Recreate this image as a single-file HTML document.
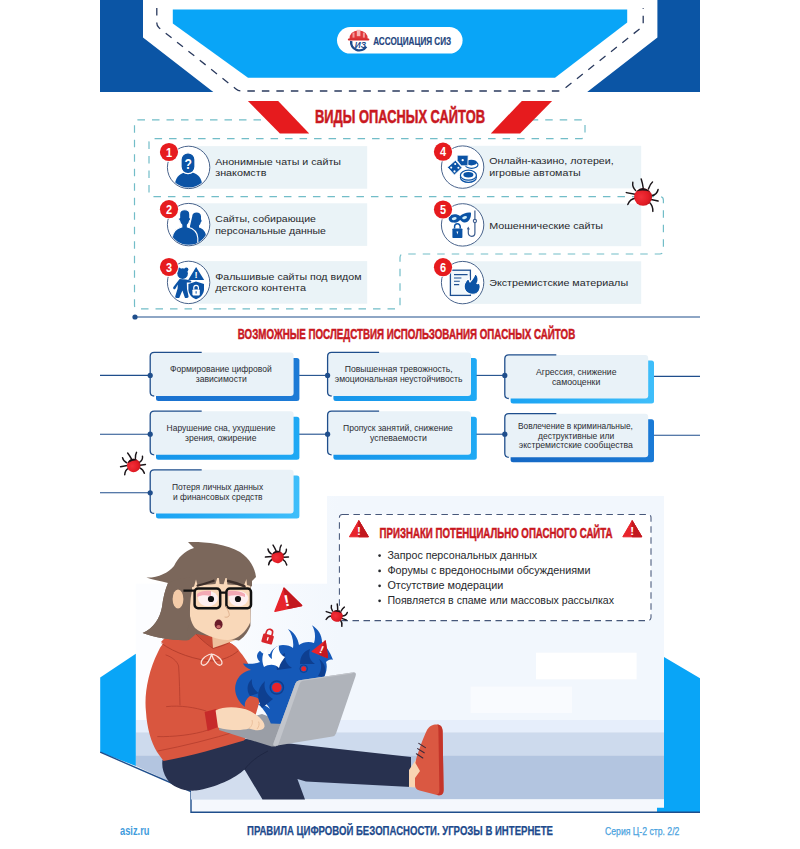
<!DOCTYPE html>
<html lang="ru"><head><meta charset="utf-8"><title>Правила цифровой безопасности. Угрозы в интернете</title>
<style>
html,body{margin:0;padding:0;background:#fff;}
body{width:800px;height:849px;overflow:hidden;font-family:"Liberation Sans",sans-serif;}
svg{display:block}
svg text{font-family:"Liberation Sans",sans-serif;}
</style></head><body>
<svg width="800" height="849" viewBox="0 0 800 849">
<rect width="800" height="849" fill="#fff"/>
<polygon points="100,0 143,0 143,37.6 213.3,92 100,92" fill="#0b55a5"/>
<polygon points="700,0 657.4,0 657.4,37.6 587.2,92 700,92" fill="#0b55a5"/>
<polygon points="172.8,9.6 627.2,9.6 627.2,22.4 555,77.7 248,77.7 172.8,23.6" fill="#09a5f7"/>
<path d="M156.8,8 V23 Q156.8,26 159,27.8 L236,89 Q238.5,91 241.5,91 H558.5 Q561.5,91 564,89 L641,27.8 Q643.2,26 643.2,23 V8" fill="none" stroke="#2a3a5e" stroke-width="1.3" stroke-dasharray="7.5 7"/>
<rect x="337" y="27" width="125.6" height="26.6" rx="13.3" fill="#fff"/>
<g id="logo">
<path d="M351.2,41 A8.2,8.2 0 0 0 366.2,46.6" fill="none" stroke="#1d4a8c" stroke-width="2.5"/>
<path d="M349.4,39.4 Q349.2,31.2 358.6,30.2 Q368,31.2 367.8,39.4 Z" fill="#e0363a"/>
<rect x="347.8" y="38.4" width="21.6" height="2.2" rx="1.1" fill="#d62c31"/>
<rect x="356.8" y="29.8" width="3.6" height="6.4" fill="#f7b3b3"/>
<rect x="352.5" y="32.6" width="2" height="5" fill="#f29a9a"/><rect x="362.9" y="32.6" width="2" height="5" fill="#f29a9a"/>
<text x="360.4" y="47.6" font-size="8.2" font-weight="700" fill="#1d4a8c" text-anchor="middle" font-style="italic">ИЗ</text>
</g>
<text x="373.2" y="44.9" font-size="10.8" font-weight="700" fill="#24457e" textLength="78" lengthAdjust="spacingAndGlyphs" stroke="#24457e" stroke-width=".2">АССОЦИАЦИЯ СИЗ</text>
<path d="M290,119.8 H138.1 Q134.5,119.8 134.5,123.39999999999999 V305.2 Q134.5,308.8 138.1,308.8 H396.4 Q400,308.8 400,305.2 V257.6 Q400,254 403.6,254 H659.8 Q663.4,254 663.4,250.4 V200.2 Q663.4,196.6 659.8,196.6 H152.6 Q149,196.6 149,193.0 V142.2 Q149,138.6 152.6,138.6 H581.4 Q585,138.6 585,135.0 V123.39999999999999 Q585,119.8 581.4,119.8 H510" fill="none" stroke="#72bdc8" stroke-width="1.2" stroke-dasharray="7.5 7"/>
<rect x="300" y="105" width="200" height="24" fill="#fff"/>
<polygon points="247.9,100.9 278.2,100.9 309.2,133.6 279.9,133.6" fill="#e61b1e"/>
<polygon points="552.1,100.9 521.8,100.9 490.8,133.6 520.1,133.6" fill="#e61b1e"/>
<text x="315" y="123.2" font-size="18.2" font-weight="700" fill="#c9181f" textLength="170" lengthAdjust="spacingAndGlyphs" stroke="#c9181f" stroke-width=".55">ВИДЫ ОПАСНЫХ САЙТОВ</text>
<rect x="188.6" y="146.1" width="178.6" height="42.6" fill="#eaf3f7"/>
<circle cx="188.6" cy="167.4" r="21.2" fill="#fff" stroke="#35527f" stroke-width=".9"/>
<text x="215.2" y="164.6" font-size="9.9" font-weight="400" fill="#26282c" textLength="125.75" lengthAdjust="spacingAndGlyphs" >Анонимные чаты и сайты</text>
<text x="215.2" y="176.4" font-size="9.9" font-weight="400" fill="#26282c" textLength="51.25" lengthAdjust="spacingAndGlyphs" >знакомств</text>
<rect x="188.6" y="203.29999999999998" width="178.6" height="42.6" fill="#eaf3f7"/>
<circle cx="188.6" cy="224.6" r="21.2" fill="#fff" stroke="#35527f" stroke-width=".9"/>
<text x="215.2" y="221.8" font-size="9.9" font-weight="400" fill="#26282c" textLength="100.75" lengthAdjust="spacingAndGlyphs" >Сайты, собирающие</text>
<text x="215.2" y="233.6" font-size="9.9" font-weight="400" fill="#26282c" textLength="110.75" lengthAdjust="spacingAndGlyphs" >персональные данные</text>
<rect x="188.6" y="261.09999999999997" width="178.6" height="42.6" fill="#eaf3f7"/>
<circle cx="188.6" cy="282.4" r="21.2" fill="#fff" stroke="#35527f" stroke-width=".9"/>
<text x="215.2" y="279.6" font-size="9.9" font-weight="400" fill="#26282c" textLength="146.25" lengthAdjust="spacingAndGlyphs" >Фальшивые сайты под видом</text>
<text x="215.2" y="291.4" font-size="9.9" font-weight="400" fill="#26282c" textLength="90.75" lengthAdjust="spacingAndGlyphs" >детского контента</text>
<rect x="462.6" y="145.79999999999998" width="178.6" height="42.6" fill="#eaf3f7"/>
<circle cx="462.6" cy="167.1" r="21.2" fill="#fff" stroke="#35527f" stroke-width=".9"/>
<text x="489.2" y="164.3" font-size="9.9" font-weight="400" fill="#26282c" textLength="124.5" lengthAdjust="spacingAndGlyphs" >Онлайн-казино, лотереи,</text>
<text x="489.2" y="176.1" font-size="9.9" font-weight="400" fill="#26282c" textLength="91.5" lengthAdjust="spacingAndGlyphs" >игровые автоматы</text>
<rect x="462.6" y="203.6" width="178.6" height="42.6" fill="#eaf3f7"/>
<circle cx="462.6" cy="224.9" r="21.2" fill="#fff" stroke="#35527f" stroke-width=".9"/>
<text x="489.2" y="228.5" font-size="9.9" font-weight="400" fill="#26282c" textLength="113.9" lengthAdjust="spacingAndGlyphs" >Мошеннические сайты</text>
<rect x="462.6" y="261.3" width="178.6" height="42.6" fill="#eaf3f7"/>
<circle cx="462.6" cy="282.6" r="21.2" fill="#fff" stroke="#35527f" stroke-width=".9"/>
<text x="489.2" y="286.2" font-size="9.9" font-weight="400" fill="#26282c" textLength="138.9" lengthAdjust="spacingAndGlyphs" >Экстремистские материалы</text>
<g id="icons" fill="#0b53a5">
<defs>
<clipPath id="c1"><circle cx="188.6" cy="167.4" r="20.2"/></clipPath>
<clipPath id="c2"><circle cx="188.6" cy="224.6" r="20.2"/></clipPath>
</defs>
<!-- icon 1: anonymous -->
<g clip-path="url(#c1)">
<path d="M174.6,190 C174.2,178.5 178.5,174.2 184.5,172.6 L192.5,172.6 C198.5,174.2 202.8,178.5 202.4,190 Z"/>
<rect x="181" y="152.8" width="14" height="20.8" rx="6.8" stroke="#fff" stroke-width="1.3"/>
</g>
<text x="188.2" y="168.8" font-size="14.4" font-weight="700" fill="#fff" text-anchor="middle" transform="translate(188.2 0) scale(.84 1) translate(-188.2 0)">?</text>
<!-- icon 2: two people -->
<g clip-path="url(#c2)">
<path d="M192.2,216.5 C192.2,213.8 194,212.6 196.6,212.6 C199.2,212.6 201,213.8 201,216.5 L201,219.5 C201.8,219.6 201.8,222 200.8,222.2 C200.4,224 199.6,225 199,225.4 L199,227.4 C203,228.6 206,231.5 206.2,237 L206.2,244 L190,244 L190,226 Z"/>
<path d="M179.6,214.5 C179.6,211.2 181.6,209.8 184.6,209.8 C187.6,209.8 189.8,211.2 189.8,214.5 L189.8,217.6 C190.8,217.8 190.8,220.6 189.6,220.9 C189.2,223 188.2,224.4 187.4,225 L187.4,227 C193.4,228.4 197.4,231.4 197.8,238 L197.8,247 L172.2,247 L172.2,238 C172.6,231.4 176.2,228.4 181.8,227 L181.8,225 C181,224.4 180,223 179.6,220.9 C178.4,220.6 178.4,217.8 179.6,217.6 Z" stroke="#fff" stroke-width="1.1"/>
</g>
<!-- icon 3: child + warning + shield -->
<g>
<circle cx="178.9" cy="269.6" r="2.1"/><circle cx="186.3" cy="269.6" r="2.1"/>
<circle cx="182.6" cy="273.6" r="5.3"/>
<path d="M179.6,279 L186,279.4 L190.6,280.6 Q192,281.4 191,282.6 L186.8,282.6 L187,289 L188.6,296.6 Q188.6,298 187,298 L185,298 L182.4,290.4 L179.2,298 L176.4,298 Q175,298 175.2,296.6 L177.6,288.6 L177.8,284.6 L175.4,288.8 Q174.4,289.8 173.4,288.8 Q172.8,288 173.4,287 Z"/>
<path d="M196.1,267 L204.2,279.9 L188.2,279.9 Z"/>
<text x="196.15" y="278.4" font-size="9.4" font-weight="700" fill="#fff" text-anchor="middle">!</text>
<path d="M196,281.4 L204,284 L204,289.2 C204,294 200.4,297.6 196,299.2 C191.6,297.6 188.4,294 188.4,289.2 L188.4,284 Z"/>
<rect x="192.4" y="289.4" width="7.4" height="6" rx=".8" fill="#fff"/>
<path d="M193.8,289.6 V287.6 A2.3,2.3 0 0 1 198.4,287.6 V289.6" fill="none" stroke="#fff" stroke-width="1.2"/>
<rect x="195.6" y="291.2" width="1" height="2.4" fill="#0b53a5"/>
</g>
<!-- icon 4: dice + chips -->
<g>
<ellipse cx="471.6" cy="164.8" rx="6.4" ry="3.6" fill="#fff" stroke="#0b53a5" stroke-width="1.1"/>
<ellipse cx="471.4" cy="162.6" rx="5.6" ry="2.8"/>
<path d="M457.2,155.2 L468.2,155.2 L467.8,165.8 L461.2,165.8 L457.2,160.6 Z" stroke="#fff" stroke-width=".8"/>
<circle cx="462.7" cy="160.2" r="1.15" fill="#fff"/>
<path d="M447.4,167.3 L455.4,160.3 L462.1,167.7 L454.4,175 Z" stroke="#fff" stroke-width=".8"/>
<circle cx="451.2" cy="167.6" r="1.05" fill="#fff"/><circle cx="455.2" cy="164" r="1.05" fill="#fff"/><circle cx="458.4" cy="167.8" r="1.05" fill="#fff"/><circle cx="454.5" cy="171.4" r="1.05" fill="#fff"/>
<ellipse cx="468.4" cy="177.2" rx="8" ry="5.2" fill="#fff" stroke="#0b53a5" stroke-width="1.2"/>
<ellipse cx="468.4" cy="175.2" rx="8" ry="5" fill="#fff" stroke="#0b53a5" stroke-width="1.2"/>
<ellipse cx="468.4" cy="174.8" rx="5" ry="2.7"/>
</g>
<!-- icon 5: mask, lock, hook -->
<g>
<path d="M448.8,217.4 C451,213.4 457,213.6 460,216 C463,213.4 468,212 471,212.8 C471.4,218 468.6,223 464.4,222.6 C462.4,222.4 461.2,220.8 460.2,220 C459,221.2 457,223 453.6,222.6 C450,222.2 448.2,220.4 448.8,217.4 Z"/>
<ellipse cx="454.2" cy="218.6" rx="2.5" ry="1.5" fill="#cfeffa" transform="rotate(-12 454.2 218.6)"/>
<ellipse cx="464.6" cy="217.6" rx="2.5" ry="1.5" fill="#cfeffa" transform="rotate(-18 464.6 217.6)"/>
<rect x="452.4" y="228.4" width="10" height="9.6" rx=".8"/>
<path d="M454.6,228.6 V226.6 A2.8,2.8 0 0 1 460.2,226.6 V228.6" fill="none" stroke="#0b53a5" stroke-width="1.5"/>
<path d="M456.5,231.6 h1.8 l-.9,3 z" fill="#fff"/>
<path d="M474.9,210.4 V219.4 M474.9,222.6 V233 A3.3,3.3 0 0 1 468.3,233 V228" fill="none" stroke="#3b5c8f" stroke-width="1.2"/>
<circle cx="474.9" cy="221" r="1.6" fill="#fff" stroke="#3b5c8f" stroke-width="1.1"/>
<path d="M466.9,229.2 L468.3,226.4 L469.9,229.4 Z" fill="#3b5c8f"/>
</g>
<!-- icon 6: document + flame -->
<g>
<rect x="450.4" y="270.2" width="20" height="25.2" fill="#f1f8fc" stroke="#1d4f91" stroke-width="1.3"/>
<path d="M454,274.6 H467.6 M454,278 H461.4 M454,281.3 H459.8 M454,284.6 H459.2" stroke="#1d4f91" stroke-width="1.1"/>
<path d="M475,273.2 C478.4,276.4 478.8,280.4 476.9,283.6 C477.8,284 478.6,283.6 479.2,282.6 C480.6,286 480.4,290.4 477.3,292.9 C475.6,294.2 473.6,294.4 472,294.2 C468.6,294 465.6,292 464.4,288.6 C463.4,285.2 465.6,281 469,277.6 C468.8,279.6 469.2,281.2 470,282 C471.6,280.4 474.4,277.4 475,273.2 Z" stroke="#fff" stroke-width="1.1"/>
</g>
</g>

<circle cx="169.0" cy="152.0" r="9.9" fill="#fff"/><circle cx="169.0" cy="152.0" r="9.1" fill="#e61b1e"/>
<text x="169.0" y="156.8" font-size="13.4" font-weight="700" fill="#fff" text-anchor="middle" transform="translate(169.0 0) scale(.82 1) translate(-169.0 0)">1</text>
<circle cx="169.0" cy="209.2" r="9.9" fill="#fff"/><circle cx="169.0" cy="209.2" r="9.1" fill="#e61b1e"/>
<text x="169.0" y="214.0" font-size="13.4" font-weight="700" fill="#fff" text-anchor="middle" transform="translate(169.0 0) scale(.82 1) translate(-169.0 0)">2</text>
<circle cx="169.0" cy="267.0" r="9.9" fill="#fff"/><circle cx="169.0" cy="267.0" r="9.1" fill="#e61b1e"/>
<text x="169.0" y="271.8" font-size="13.4" font-weight="700" fill="#fff" text-anchor="middle" transform="translate(169.0 0) scale(.82 1) translate(-169.0 0)">3</text>
<circle cx="443.0" cy="151.7" r="9.9" fill="#fff"/><circle cx="443.0" cy="151.7" r="9.1" fill="#e61b1e"/>
<text x="443.0" y="156.5" font-size="13.4" font-weight="700" fill="#fff" text-anchor="middle" transform="translate(443.0 0) scale(.82 1) translate(-443.0 0)">4</text>
<circle cx="443.0" cy="209.5" r="9.9" fill="#fff"/><circle cx="443.0" cy="209.5" r="9.1" fill="#e61b1e"/>
<text x="443.0" y="214.3" font-size="13.4" font-weight="700" fill="#fff" text-anchor="middle" transform="translate(443.0 0) scale(.82 1) translate(-443.0 0)">5</text>
<circle cx="443.0" cy="267.2" r="9.9" fill="#fff"/><circle cx="443.0" cy="267.2" r="9.1" fill="#e61b1e"/>
<text x="443.0" y="272.0" font-size="13.4" font-weight="700" fill="#fff" text-anchor="middle" transform="translate(443.0 0) scale(.82 1) translate(-443.0 0)">6</text>
<path d="M135,317 H700" stroke="#1f4e8c" stroke-width="1.2"/><circle cx="135" cy="317" r="2.6" fill="#1f4e8c"/>
<text x="237.8" y="338.8" font-size="14.2" font-weight="700" fill="#c9181f" textLength="337.4" lengthAdjust="spacingAndGlyphs" stroke="#c9181f" stroke-width=".5">ВОЗМОЖНЫЕ ПОСЛЕДСТВИЯ ИСПОЛЬЗОВАНИЯ ОПАСНЫХ САЙТОВ</text>
<defs>
<linearGradient id="g1" x1="0" x2="1"><stop offset="0" stop-color="#1a72d0"/><stop offset="1" stop-color="#1d7bd6"/></linearGradient>
<linearGradient id="g2" x1="0" x2="1"><stop offset="0" stop-color="#1695ea"/><stop offset="1" stop-color="#1fa9f4"/></linearGradient>
<linearGradient id="g3" x1="0" x2="1"><stop offset="0" stop-color="#1aa3f3"/><stop offset="1" stop-color="#3fbefa"/></linearGradient>
<linearGradient id="g4" x1="0" x2="1"><stop offset="0" stop-color="#1568c4"/><stop offset="1" stop-color="#1a7ad6"/></linearGradient>
</defs>
<path d="M100,375.4 H150.2" stroke="#1f4e8c" stroke-width="1.1"/>
<rect x="156.0" y="358.0" width="143.4" height="43.0" rx="2.5" fill="url(#g1)"/>
<rect x="150.2" y="352.4" width="143.4" height="43.6" rx="3" fill="#e9f2f8"/>
<path d="M201.7,352.4 H154.2 Q150.2,352.4 150.2,356.4 V392.0 Q150.2,396.0 154.2,396.0" fill="none" stroke="#1f4e8c" stroke-width="1.3"/>
<circle cx="150.2" cy="375.4" r="2.6" fill="#1f4e8c"/>
<text x="170" y="372.3" font-size="8.6" font-weight="400" fill="#2b2d33" textLength="101.7" lengthAdjust="spacingAndGlyphs" >Формирование цифровой</text>
<text x="195.7" y="382.1" font-size="8.6" font-weight="400" fill="#2b2d33" textLength="51" lengthAdjust="spacingAndGlyphs" >зависимости</text>
<path d="M299.20000000000005,375.4 H327.6" stroke="#1f4e8c" stroke-width="1.1"/>
<rect x="333.4" y="358.0" width="143.4" height="43.0" rx="2.5" fill="url(#g2)"/>
<rect x="327.6" y="352.4" width="143.4" height="43.6" rx="3" fill="#e9f2f8"/>
<path d="M379.1,352.4 H331.6 Q327.6,352.4 327.6,356.4 V392.0 Q327.6,396.0 331.6,396.0" fill="none" stroke="#1f4e8c" stroke-width="1.3"/>
<circle cx="327.6" cy="375.4" r="2.6" fill="#1f4e8c"/>
<text x="344.7" y="372.3" font-size="8.6" font-weight="400" fill="#2b2d33" textLength="108" lengthAdjust="spacingAndGlyphs" >Повышенная тревожность,</text>
<text x="334.8" y="382.1" font-size="8.6" font-weight="400" fill="#2b2d33" textLength="127.6" lengthAdjust="spacingAndGlyphs" >эмоциональная неустойчивость</text>
<path d="M476.40000000000003,375.4 H504.8" stroke="#1f4e8c" stroke-width="1.1"/>
<path d="M653.2,376.4 H700" stroke="#1f4e8c" stroke-width="1.1"/>
<rect x="510.6" y="360.5" width="143.4" height="43.0" rx="2.5" fill="url(#g3)"/>
<rect x="504.8" y="354.9" width="143.4" height="43.6" rx="3" fill="#e9f2f8"/>
<path d="M556.3,354.9 H508.8 Q504.8,354.9 504.8,358.9 V394.5 Q504.8,398.5 508.8,398.5" fill="none" stroke="#1f4e8c" stroke-width="1.3"/>
<circle cx="504.8" cy="375.4" r="2.6" fill="#1f4e8c"/>
<text x="536" y="374.8" font-size="8.6" font-weight="400" fill="#2b2d33" textLength="80.5" lengthAdjust="spacingAndGlyphs" >Агрессия, снижение</text>
<text x="551.9" y="384.6" font-size="8.6" font-weight="400" fill="#2b2d33" textLength="48.4" lengthAdjust="spacingAndGlyphs" >самооценки</text>
<path d="M100,434.2 H150.2" stroke="#1f4e8c" stroke-width="1.1"/>
<rect x="156.0" y="416.8" width="143.4" height="43.0" rx="2.5" fill="url(#g2)"/>
<rect x="150.2" y="411.2" width="143.4" height="43.6" rx="3" fill="#e9f2f8"/>
<path d="M201.7,411.2 H154.2 Q150.2,411.2 150.2,415.2 V450.8 Q150.2,454.8 154.2,454.8" fill="none" stroke="#1f4e8c" stroke-width="1.3"/>
<circle cx="150.2" cy="434.2" r="2.6" fill="#1f4e8c"/>
<text x="166.6" y="431.1" font-size="8.6" font-weight="400" fill="#2b2d33" textLength="108.8" lengthAdjust="spacingAndGlyphs" >Нарушение сна, ухудшение</text>
<text x="185" y="440.9" font-size="8.6" font-weight="400" fill="#2b2d33" textLength="71.4" lengthAdjust="spacingAndGlyphs" >зрения, ожирение</text>
<path d="M299.20000000000005,434.2 H327.6" stroke="#1f4e8c" stroke-width="1.1"/>
<rect x="333.4" y="416.8" width="143.4" height="43.0" rx="2.5" fill="url(#g2)"/>
<rect x="327.6" y="411.2" width="143.4" height="43.6" rx="3" fill="#e9f2f8"/>
<path d="M379.1,411.2 H331.6 Q327.6,411.2 327.6,415.2 V450.8 Q327.6,454.8 331.6,454.8" fill="none" stroke="#1f4e8c" stroke-width="1.3"/>
<circle cx="327.6" cy="434.2" r="2.6" fill="#1f4e8c"/>
<text x="343" y="431.1" font-size="8.6" font-weight="400" fill="#2b2d33" textLength="109.7" lengthAdjust="spacingAndGlyphs" >Пропуск занятий, снижение</text>
<text x="370" y="440.9" font-size="8.6" font-weight="400" fill="#2b2d33" textLength="56.8" lengthAdjust="spacingAndGlyphs" >успеваемости</text>
<path d="M476.40000000000003,434.2 H504.8" stroke="#1f4e8c" stroke-width="1.1"/>
<path d="M653.2,435.2 H700" stroke="#1f4e8c" stroke-width="1.1"/>
<rect x="510.6" y="419.3" width="143.4" height="43.0" rx="2.5" fill="url(#g4)"/>
<rect x="504.8" y="413.7" width="143.4" height="43.6" rx="3" fill="#e9f2f8"/>
<path d="M556.3,413.7 H508.8 Q504.8,413.7 504.8,417.7 V453.3 Q504.8,457.3 508.8,457.3" fill="none" stroke="#1f4e8c" stroke-width="1.3"/>
<circle cx="504.8" cy="434.2" r="2.6" fill="#1f4e8c"/>
<text x="518" y="429.0" font-size="8.6" font-weight="400" fill="#2b2d33" textLength="114.9" lengthAdjust="spacingAndGlyphs" >Вовлечение в криминальные,</text>
<text x="538" y="438.6" font-size="8.6" font-weight="400" fill="#2b2d33" textLength="76.2" lengthAdjust="spacingAndGlyphs" >деструктивные или</text>
<text x="518.8" y="448.1" font-size="8.6" font-weight="400" fill="#2b2d33" textLength="114.1" lengthAdjust="spacingAndGlyphs" >экстремистские сообщества</text>
<path d="M100,492.8 H150.2" stroke="#1f4e8c" stroke-width="1.1"/>
<rect x="156.0" y="475.4" width="143.4" height="43.0" rx="2.5" fill="url(#g3)"/>
<rect x="150.2" y="469.8" width="143.4" height="43.6" rx="3" fill="#e9f2f8"/>
<path d="M201.7,469.8 H154.2 Q150.2,469.8 150.2,473.8 V509.4 Q150.2,513.4 154.2,513.4" fill="none" stroke="#1f4e8c" stroke-width="1.3"/>
<circle cx="150.2" cy="492.8" r="2.6" fill="#1f4e8c"/>
<text x="171.9" y="489.7" font-size="8.6" font-weight="400" fill="#2b2d33" textLength="91.3" lengthAdjust="spacingAndGlyphs" >Потеря личных данных</text>
<text x="173" y="499.5" font-size="8.6" font-weight="400" fill="#2b2d33" textLength="89.6" lengthAdjust="spacingAndGlyphs" >и финансовых средств</text>
<g id="scene">
<!-- pale panel -->
<defs><linearGradient id="pg" gradientUnits="userSpaceOnUse" x1="190" x2="340" y1="0" y2="0"><stop offset="0" stop-color="#fcfdff"/><stop offset="1" stop-color="#f2f7fd"/></linearGradient></defs>
<path d="M327,496 H664 V721 H135.8 V583.8 H327 Z" fill="url(#pg)"/>
<rect x="536" y="652.7" width="100.6" height="26.6" fill="#fff"/>
<rect x="470.6" y="686.6" width="101.4" height="26.4" fill="#fff" opacity=".55"/>
<!-- floor bands -->
<rect x="135.8" y="720" width="528.2" height="12.4" fill="#e6eefb"/>
<rect x="135.8" y="732.3" width="528.2" height="23.4" fill="#cddaed"/>
<polygon points="135.8,755.5 664,755.5 664,799.4 191,799.4 191,791.5 135.8,766" fill="#b3c5e0"/>
<rect x="191" y="799.4" width="473" height="12.6" fill="#f5f8fd"/>
<!-- side blocks -->
<polygon points="100.2,677.5 135.8,653.8 135.8,766 100.2,752.2" fill="#09a5f7"/>
<polygon points="664,657 700,678.2 700,812.4 657,812.4 657,807.7 664,807.7" fill="#09a5f7"/>
<path d="M100.2,752.2 L191,791.5 V812.3 H700" fill="none" stroke="#1f4e8c" stroke-width="1.4"/>

<!-- signs box -->
<rect x="339.4" y="514.4" width="311.6" height="106.2" rx="3" fill="#fff" stroke="#46577a" stroke-width="1.05" stroke-dasharray="6.5 4.5"/>
<g id="warnL">
<path d="M358.8,520.6 L368.4,536.8 L349.4,536.8 Z" fill="#e8242b" stroke="#e8242b" stroke-width="1" stroke-linejoin="round"/>
<path d="M358.8,520.6 L368.4,536.8 L358.8,536.8 Z" fill="#c2181f" stroke="#c2181f" stroke-width="1" stroke-linejoin="round"/>
<text x="358.85" y="534.9" font-size="11.6" font-weight="700" fill="#fff" text-anchor="middle">!</text>
</g>
<g transform="translate(273.4 0)">
<path d="M358.8,520.6 L368.4,536.8 L349.4,536.8 Z" fill="#e8242b" stroke="#e8242b" stroke-width="1" stroke-linejoin="round"/>
<path d="M358.8,520.6 L368.4,536.8 L358.8,536.8 Z" fill="#c2181f" stroke="#c2181f" stroke-width="1" stroke-linejoin="round"/>
<text x="358.85" y="534.9" font-size="11.6" font-weight="700" fill="#fff" text-anchor="middle">!</text>
</g>

<!-- ===== girl ===== -->
<!-- pants -->
<polygon points="191,776 262,768 263,799.4 191,799.4" fill="#d2ddee"/>
<path d="M162.5,760 C180,754 220,744 246,739 L276,742 L411,757 L411,787 L306,781.5 L297.4,779 L305,799.4 L262.5,799.4 L244.5,769.6 C236,778 215,788 196,790.6 C184,791.6 172,787 167,779 C163,773 161.6,766 162.5,760 Z" fill="#28314f"/>
<path d="M244.5,769.6 C250,762 258,756 268,751" fill="none" stroke="#1d2540" stroke-width=".8"/>
<!-- ankle + shoe -->
<path d="M409,770 L416.4,759 L421.4,771 L416,787.4 L409,787 Z" fill="#f9d5b3"/>
<path d="M416.4,758 C419,750 423,738 427,730 C429.6,725.4 434,724 438,724.6 C441,725.2 442.4,727.4 442.6,731 L443.6,790 C443.6,794.6 441,796 437,795 L419.6,790.6 C416.4,789.6 415,788 415,785 L415,778 L420,771 L415.4,763 Z" fill="#da5842"/>
<path d="M437.4,724.6 C441,725 442.4,727.4 442.6,731 L443.6,790 C443.6,794.6 441,796 437.4,795 L436.6,794.8 C438.6,794.4 439.4,793 439.4,790 L438.4,731 C438.4,728 438.2,726 437.4,724.6 Z" fill="#c4352a"/>
<path d="M418.8,743.4 l6.6,4.2 M417.6,748.6 l6.6,4.2 M416.4,753.8 l6.4,4.2" stroke="#3a2a3a" stroke-width="1.1" fill="none" stroke-linecap="round"/>
<!-- hoodie body -->
<path d="M190,626 C176,630 163,640 158,652 C148,672 144,695 146,712 C147,728 151,742 157,752 L163.5,761 C190,756 222,747 244,740.4 L252,727 L260,700 C257,680 249,662 240,652 C238,648 234,645 230,643 L226,634 L196,630 Z" fill="#d9563f"/>
<!-- inner hood (behind chin) -->
<path d="M192,627 L232,636 L229,645 L213,649 L198,642 Z" fill="#c94a36"/>
<!-- hood roll -->
<path d="M161,642 C168,634 180,628 190,625.6 C193,632 203,642 213,648.4 C219,647 225,645 229,642.6 C233,644 236.6,647 238,651 C231,657 222,660 214,661 C196,660.6 174,652.6 161,642 Z" fill="#d9563f"/>
<path d="M161.6,643.4 C174,652.6 196,660.6 214,661 C222,660 231,657 238,651 M190,625.6 C193,632 203,642 213,648.4 C219,647 225,645 229,642.6" fill="none" stroke="#b03c2b" stroke-width=".9"/>
<!-- hoodie folds -->
<path d="M166,655 C172,657 177,661 178.6,666 C179.6,680 179.6,694 180,705 M166.5,706.6 C180,705 196,707.6 206,711 M157.7,736.6 C172,737 194,735 208,730 M158,751 C184,746 212,739 238,731" fill="none" stroke="#b8402f" stroke-width=".9" stroke-linecap="round"/>
<!-- drawstring bow -->
<path d="M211.6,654 C205,655 198.6,662 202.2,664.8 C206,667 210.2,660 211.6,654 C218,655 224.6,662 221,664.8 C217.2,667 213,660 211.6,654 Z" fill="none" stroke="#fbe3dc" stroke-width="1.25" stroke-linejoin="round"/>



<!-- laptop -->
<path d="M219,726.4 L262,714 L284,722 L276,746.4 L271.6,746.6 L219,730 Z" fill="#9a9ea6"/>
<!-- cuff + hand -->
<path d="M204.6,712 L216,709 L218.4,727 L207.6,731 Z" fill="#c62a2a"/>
<path d="M215.6,710.4 C224,706 240,706.4 250,711 C258,715 265.6,722 264.4,727 C263,731 256,731 249,728.6 C241,731 228,730.4 218,727.4 Z" fill="#f9d9bb"/>
<path d="M249,728.6 C252,726 253,723 252,720 M257,729 C259,726.6 259.6,724 258.6,721.6" fill="none" stroke="#e6b893" stroke-width=".8"/>

<!-- flames -->
<g id="flames">
<path d="M284,724 L270.8,723.5 C268,716 264,709 258,704 C263,704 267,706 270,709 C266,702 258,697 250,696 C246,699 244,703 245,707 C238,702 233,692 236,683 C238,676 244,671 251,670 C247,668 244,666 243,663.5 C249,664 255,664 260,662 C256,658 256,654 260,650.8 C262,654 266,655 270,654 C272,649 277,645 283,645 C287,645 291,646 293,648 C294,641 292,634 288,629 C294,632 298,638 299,645 C303,642 309,641 314,643 C316,637 315,630 312,625.3 C318,629 322,635 322,642 C326,646 330,652 333,659.8 C330,659 328,660 326,662 C328,668 326,676 320,684 L297,683 Z" fill="#1559b8"/>
<path d="M250,696 C246,690 247,683 252,679 C251,685 254,690 259,693 Z M262,708 C256,698 257,688 265,681 C263,689 267,695 273,699 Z M277,670 C275,662 279,656 285,653 C284,660 287,665 292,668 Z M300,664 C300,656 304,651 310,649 C308,656 310,661 315,664 Z M318,676 C322,670 322,664 319,659 C325,663 327,670 324,677 Z" fill="#0e3f90"/>
<path d="M264,667 C261,660 262,653 267,648 C267,654 269,657 272,659 C271,652 274,647 279,645.4 C278,651 281,655 285,657 C283,660 280,663 279,668 C275,664 269,664 264,667 Z" fill="#fff"/>
<circle cx="276.8" cy="687.5" r="4.8" fill="#e8242b"/><circle cx="276.8" cy="687.5" r="6.6" fill="none" stroke="#0e3f90" stroke-width="1.5"/>
<circle cx="303.7" cy="668.7" r="2.5" fill="#e8242b"/><circle cx="303.7" cy="668.7" r="3.8" fill="none" stroke="#0e3f90" stroke-width="1"/>
</g>
<!-- screen -->
<path d="M299.6,680.2 L352.4,672.4 Q357,671.8 355.6,676 L336,733.4 Q335,736 332.4,736.4 L276,745.8 Q272.4,746.4 273.6,743 L295.4,683.4 Q296.4,680.6 299.6,680.2 Z" fill="#afb3ba"/>
<path d="M299.6,680.2 Q296.4,680.6 295.4,683.4 L273.6,743 Q272.4,746.4 276,745.8 L278,745.4 L299.6,684 Q300.4,681.4 303,680.8 L352.4,673.6 L352.4,672.4 Z" fill="#c2c5cb"/>

<!-- neck -->
<path d="M212,634 L236,632 L236,640 L213,648 Z" fill="#eec09d"/>
<!-- hair back -->
<path d="M188,542 C200,541.4 226,543 240,552 C250,559 255,568 256,577 L251,582 L250.4,626 C247,634 243,638 239,640.4 L196,634 L189,640 C176,641 156,638 142.6,633 C154,628 160,618 162,607 C163,598 165,590 168,583 C160,581 152,580 146.4,577.6 C158,578 168,573 174,566 C178,558 184,551 194,548 Z" fill="#7b675b"/>
<!-- face -->
<path d="M190,578 L250.4,578 L250.4,622 C246,632 238,639.6 228,640 C218,640.4 202,634 195,628 C190,622 189,612 189,604 Z" fill="#f9d8b9"/>
<!-- ear -->
<ellipse cx="177.4" cy="599" rx="5.8" ry="9.6" fill="#f4cba8"/>
<path d="M176,593 C178.4,594 180,598 179,604" fill="none" stroke="#dcae8a" stroke-width=".8"/>
<!-- hair strand over left side of face -->
<path d="M168,583 C174,580 184,578 192,577 L192,590 C190,600 189.4,612 190.4,622 C188,626 186,632 189,640 C176,641 156,638 142.6,633 C154,628 160,618 162,607 C163,598 165,590 168,583 Z" fill="#7b675b"/>
<ellipse cx="178" cy="599" rx="5.4" ry="9.4" fill="#f4cba8"/>
<!-- bangs -->
<path d="M190,566 L252,566 L252,586.6 L247,585 L246.4,579 L244,585.6 L227.4,584.4 L226.4,575 L223.6,584.2 L219.6,584 L218.4,574 L215.4,584 L197.6,585.4 L196,579.6 L194,586.4 L190,588 Z" fill="#7b675b"/>
<!-- eyebrows -->
<path d="M197.6,585.6 C202,584.6 208,582.6 213.6,580.8 M228,581 C233,582 239.6,584 244.6,586.4" fill="none" stroke="#3d2f2a" stroke-width="2.3" stroke-linecap="round"/>
<!-- eyes -->
<ellipse cx="208" cy="598.6" rx="10" ry="7.6" fill="#fdeff0"/><ellipse cx="238.6" cy="598.6" rx="9.6" ry="7.6" fill="#fdeff0"/>
<path d="M197,594 C200,591 206,590.4 211,591 L211,596 C206,595 201,595 197,597 Z M228,591 C234,590.4 241,591 245,594 L245,597 C240,595 234,595 228,596 Z" fill="#f3a9b4"/>
<circle cx="211" cy="599" r="3.1" fill="#111"/><circle cx="238" cy="599" r="3.1" fill="#111"/>
<!-- glasses -->
<rect x="194.6" y="588.6" width="25.6" height="19.6" rx="3.4" fill="none" stroke="#111" stroke-width="2.5"/>
<rect x="226.4" y="588.6" width="24.6" height="19.6" rx="3.4" fill="none" stroke="#111" stroke-width="2.5"/>
<path d="M220,592.6 H226.6 M183.4,590.6 L194.6,590.6" stroke="#111" stroke-width="2.4" fill="none"/>
<!-- nose + mouth -->
<path d="M226,606 C228,611 230,614 229,616 C228,617.4 226,617.4 224.6,617" fill="none" stroke="#dcae8a" stroke-width=".9"/>
<ellipse cx="218.6" cy="624.4" rx="4" ry="4.8" fill="#6a1c2a"/>
<ellipse cx="218.6" cy="626.8" rx="2.2" ry="1.7" fill="#c96a6a"/>

<!-- floating warnings + lock -->
<g transform="rotate(-12 286.5 600)">
<path d="M286.5,588 L300.1,608.6 L272.9,608.6 Z" fill="#e8242b" stroke="#e8242b" stroke-width="1.4" stroke-linejoin="round"/>
<path d="M286.5,588 L300.1,608.6 L286.5,608.6 Z" fill="#c2181f" stroke="#c2181f" stroke-width="1.4" stroke-linejoin="round"/>
<text x="286.5" y="606.2" font-size="16" font-weight="700" fill="#fff" text-anchor="middle">!</text>
</g>
<g transform="rotate(22 322.3 648.3)">
<path d="M322.3,640.4 L330.6,655 L314,655 Z" fill="#e8242b" stroke="#e8242b" stroke-width="1.2" stroke-linejoin="round"/>
<path d="M322.3,640.4 L330.6,655 L322.3,655 Z" fill="#c2181f" stroke="#c2181f" stroke-width="1.2" stroke-linejoin="round"/>
<text x="322.3" y="653.4" font-size="10.6" font-weight="700" fill="#fff" text-anchor="middle">!</text>
</g>
<g transform="translate(.8 1.6) rotate(16 267.5 635)">
<rect x="262" y="633" width="11" height="9" rx="1.2" fill="#d9262c"/>
<path d="M264.4,633.4 V630.6 A3.1,3.1 0 0 1 270.6,630.6 V633.4" fill="none" stroke="#d9262c" stroke-width="1.6"/>
<rect x="266.9" y="635.6" width="1.3" height="3.4" fill="#fff"/>
</g>
</g>

<text x="379.6" y="537.6" font-size="13.9" font-weight="700" fill="#c9181f" textLength="233" lengthAdjust="spacingAndGlyphs" stroke="#c9181f" stroke-width=".5">ПРИЗНАКИ ПОТЕНЦИАЛЬНО ОПАСНОГО САЙТА</text>
<circle cx="379.6" cy="555.6" r="1.35" fill="#26282c"/>
<text x="387.4" y="559" font-size="10.3" font-weight="400" fill="#26282c" textLength="149.6" lengthAdjust="spacingAndGlyphs" >Запрос персональных данных</text>
<circle cx="379.6" cy="570.9" r="1.35" fill="#26282c"/>
<text x="387.4" y="574.3" font-size="10.3" font-weight="400" fill="#26282c" textLength="203.1" lengthAdjust="spacingAndGlyphs" >Форумы с вредоносными обсуждениями</text>
<circle cx="379.6" cy="585.8000000000001" r="1.35" fill="#26282c"/>
<text x="387.4" y="589.2" font-size="10.3" font-weight="400" fill="#26282c" textLength="116" lengthAdjust="spacingAndGlyphs" >Отсутствие модерации</text>
<circle cx="379.6" cy="600.8000000000001" r="1.35" fill="#26282c"/>
<text x="387.4" y="604.2" font-size="10.3" font-weight="400" fill="#26282c" textLength="226.6" lengthAdjust="spacingAndGlyphs" >Появляется в спаме или массовых рассылках</text>
<defs>
<radialGradient id="bg" cx=".38" cy=".5" r=".7"><stop offset="0" stop-color="#f2303a"/><stop offset=".6" stop-color="#e31c25"/><stop offset="1" stop-color="#b4141c"/></radialGradient>
<g id="bug">
<path d="M-7.5,-6.6 Q-11,-10 -10.3,-14.7 M0.3,-8 Q-0.5,-14 -1.9,-18.1 M5.3,-8 Q7,-13 9.4,-15 M8,-1.2 Q14,-2 15,-7.5 M8,2.5 L15,4 M6.5,5.6 Q10,9 9.7,14.4 M-8,-2.8 L-16.8,-4.4 M-8,1.2 Q-13,2 -15.3,7.5" fill="none" stroke="#1a1418" stroke-width="1.45" stroke-linecap="round" vector-effect="non-scaling-stroke"/>
<ellipse rx="9" ry="8.8" fill="url(#bg)"/>
<path d="M-6.8,-5.6 Q0,-12.4 7,-5.2 Q0,-7.6 -6.8,-5.6 Z" fill="#1a1418"/>
</g>
</defs>
<use href="#bug" transform="translate(643.1 197)"/>
<use href="#bug" transform="translate(133.7 465.5) rotate(-20) scale(.76)"/>
<use href="#bug" transform="translate(277.6 557) rotate(-15) scale(.7)"/>
<use href="#bug" transform="translate(336.8 616) rotate(8) scale(.66)"/>

<text x="120" y="835.2" font-size="12.4" font-weight="700" fill="#3f9cdc" textLength="29.5" lengthAdjust="spacingAndGlyphs" >asiz.ru</text>
<text x="247" y="835.4" font-size="12.6" font-weight="700" fill="#1d4a8c" textLength="306" lengthAdjust="spacingAndGlyphs" stroke="#1d4a8c" stroke-width=".25">ПРАВИЛА ЦИФРОВОЙ БЕЗОПАСНОСТИ. УГРОЗЫ В ИНТЕРНЕТЕ</text>
<text x="605" y="835.2" font-size="11" font-weight="400" fill="#49a2de" textLength="74.4" lengthAdjust="spacingAndGlyphs" stroke="#49a2de" stroke-width=".25">Серия Ц-2 стр. 2/2</text>
</svg>
</body></html>
